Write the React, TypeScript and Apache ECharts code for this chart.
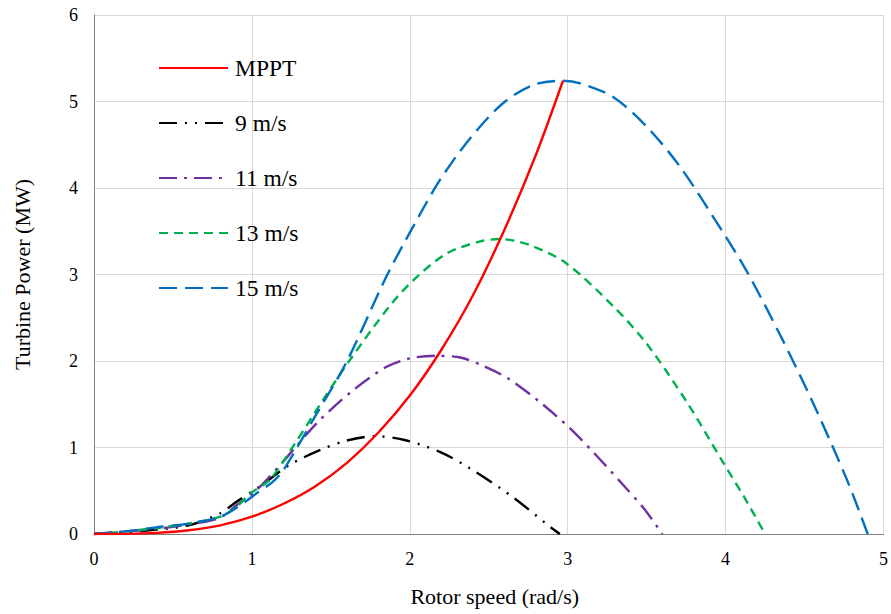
import React, { useEffect, useRef } from "react";
import * as echarts from "echarts";

// Turbine power curves versus rotor speed: [rotor speed (rad/s), power (MW)]
const mpptCurve: [number, number][] = [
  [0, 0], [0.2, 0.002], [0.4, 0.013], [0.6, 0.043], [0.8, 0.1], [1.0, 0.2],
  [1.2, 0.35], [1.4, 0.55], [1.6, 0.82], [1.8, 1.17], [2.0, 1.6], [2.2, 2.13],
  [2.4, 2.76], [2.6, 3.52], [2.8, 4.39], [2.97, 5.24],
];

const wind9: [number, number][] = [
  [0, 0], [0.2, 0.02], [0.4, 0.05], [0.6, 0.1], [0.8, 0.24], [0.9, 0.37],
  [1.05, 0.55], [1.24, 0.8], [1.43, 0.97], [1.6, 1.08], [1.78, 1.13],
  [1.96, 1.09], [2.19, 0.95], [2.38, 0.76], [2.65, 0.43], [2.89, 0.08], [2.95, 0],
];

const wind11: [number, number][] = [
  [0, 0], [0.2, 0.03], [0.4, 0.06], [0.6, 0.11], [0.8, 0.19], [0.9, 0.33],
  [1.03, 0.51], [1.18, 0.8], [1.41, 1.28], [1.64, 1.66], [1.85, 1.93],
  [2.0, 2.03], [2.17, 2.06], [2.32, 2.04], [2.47, 1.94], [2.63, 1.79],
  [2.82, 1.53], [3.01, 1.23], [3.18, 0.91], [3.35, 0.57], [3.48, 0.3], [3.6, 0],
];

const wind13: [number, number][] = [
  [0, 0], [0.2, 0.03], [0.4, 0.07], [0.6, 0.12], [0.8, 0.2], [0.9, 0.31],
  [0.99, 0.47], [1.11, 0.62], [1.26, 1.01], [1.44, 1.52], [1.62, 2.01],
  [1.87, 2.63], [2.02, 2.93], [2.23, 3.24], [2.44, 3.38], [2.57, 3.41],
  [2.76, 3.34], [2.99, 3.13], [3.29, 2.63], [3.5, 2.2], [3.76, 1.51],
  [3.98, 0.84], [4.12, 0.42], [4.25, 0],
];

const wind15: [number, number][] = [
  [0, 0], [0.2, 0.03], [0.4, 0.08], [0.6, 0.12], [0.8, 0.2], [0.9, 0.3],
  [1.03, 0.47], [1.13, 0.6], [1.2, 0.74], [1.4, 1.36], [1.6, 1.99],
  [1.85, 2.97], [2.02, 3.55], [2.19, 4.09], [2.38, 4.57], [2.59, 4.98],
  [2.78, 5.19], [2.97, 5.24], [3.08, 5.21], [3.29, 5.05], [3.5, 4.71],
  [3.71, 4.25], [3.92, 3.67], [4.13, 3.05], [4.34, 2.32], [4.55, 1.53],
  [4.77, 0.62], [4.9, 0],
];

const seriesNames = ["MPPT", "9 m/s", "11 m/s", "13 m/s", "15 m/s"];
const seriesData = [mpptCurve, wind9, wind11, wind13, wind15];
const seriesColors = ["#FF0000", "#000000", "#7030A0", "#00B050", "#0070C0"];
const seriesDash: (string | number[])[] = [
  "solid",
  [18, 8, 2, 8, 2, 8],
  [18, 7, 3, 7],
  [9, 6],
  [18, 8],
];

const FONT = '"Liberation Serif", "Times New Roman", serif';

export default function App() {
  const ref = useRef<HTMLDivElement>(null);

  useEffect(() => {
    if (!ref.current) return;
    const chart = echarts.init(ref.current, undefined, { renderer: "svg" });

    chart.setOption({
      animation: false,
      backgroundColor: "#ffffff",
      textStyle: { fontFamily: FONT },
      grid: { left: 94, right: 7, top: 15, bottom: 80, containLabel: false },
      legend: {
        orient: "vertical",
        left: 153,
        top: 51,
        itemWidth: 69,
        itemHeight: 14,
        itemGap: 31,
        data: seriesNames,
        itemStyle: { opacity: 0 },
        textStyle: {
          fontFamily: FONT,
          fontSize: 23.5,
          color: "#000",
          lineHeight: 24,
          padding: [0, 0, 0, 2],
        },
      },
      xAxis: {
        type: "value",
        min: 0,
        max: 5,
        interval: 1,
        name: "Rotor speed (rad/s)",
        nameLocation: "middle",
        nameGap: 51,
        nameTextStyle: {
          fontFamily: FONT,
          fontSize: 22,
          color: "#000",
          padding: [0, 0, 0, 12],
        },
        axisLine: { show: true, lineStyle: { color: "#808080", width: 1 } },
        axisTick: { show: false },
        axisLabel: { fontFamily: FONT, fontSize: 18, color: "#000", margin: 16 },
        splitLine: { show: true, lineStyle: { color: "#D9D9D9", width: 1 } },
      },
      yAxis: {
        type: "value",
        min: 0,
        max: 6,
        interval: 1,
        name: "Turbine Power (MW)",
        nameLocation: "middle",
        nameRotate: 90,
        nameGap: 61,
        nameTextStyle: { fontFamily: FONT, fontSize: 22, color: "#000" },
        axisLine: { show: true, lineStyle: { color: "#808080", width: 1 } },
        axisTick: { show: false },
        axisLabel: { fontFamily: FONT, fontSize: 18, color: "#000", margin: 16 },
        splitLine: { show: true, lineStyle: { color: "#D9D9D9", width: 1 } },
      },
      series: seriesNames.map((name, i) => ({
        name,
        type: "line",
        data: seriesData[i],
        showSymbol: false,
        symbol: "none",
        smooth: 0.3,
        color: seriesColors[i],
        lineStyle: {
          color: seriesColors[i],
          width: 2.4,
          type: seriesDash[i],
          cap: "butt",
        },
        z: i === 0 ? 3 : 2,
      })),
    });

    return () => chart.dispose();
  }, []);

  return (
    <div
      ref={ref}
      style={{ position: "fixed", left: 0, top: 0, width: 891, height: 614 }}
    />
  );
}
